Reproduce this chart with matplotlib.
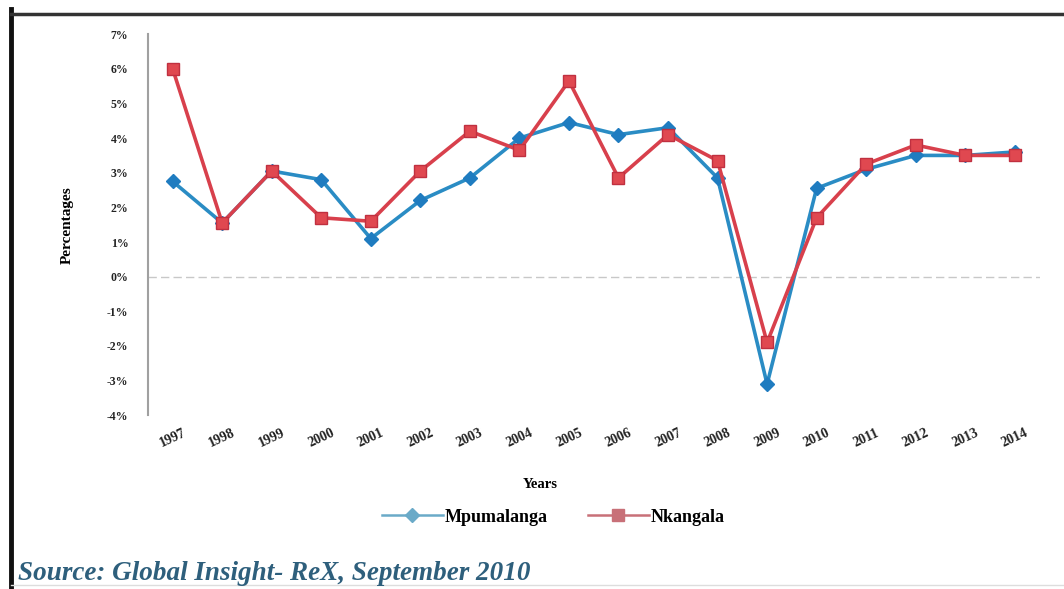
import numpy as np
import matplotlib.pyplot as plt
from matplotlib.lines import Line2D

# Daten
years = list(range(1997, 2015))
mpumalanga = [2.75, 1.55, 3.05, 2.8, 1.1, 2.2, 2.85, 4.0, 4.45, 4.1, 4.3, 2.85, -3.1, 2.55, 3.1, 3.5, 3.5, 3.6]
nkangala = [6.0, 1.55, 3.05, 1.7, 1.6, 3.05, 4.2, 3.65, 5.65, 2.85, 4.1, 3.35, -1.9, 1.7, 3.25, 3.8, 3.5, 3.5]
ytick_vals = list(range(-4, 8))
ytick_labels = [f'{v}%' for v in ytick_vals]

fig = plt.figure(figsize=(10.64, 5.89), dpi=100)
ax = fig.add_axes([0.139, 0.295, 0.838, 0.647])

x = np.arange(len(years))
ax.plot(x, mpumalanga, color='#2a8cc4', lw=2.6, marker='D', ms=7,
        mfc='#1f7cc0', mec='#1f7cc0', label='Mpumalanga', zorder=3)
ax.plot(x, nkangala, color='#d8404c', lw=2.6, marker='s', ms=8,
        mfc='#e04850', mec='#c03040', label='Nkangala', zorder=4)

ax.axhline(0, color='#c8c8c8', lw=1, ls=(0, (6, 3)), zorder=1)

ax.set_xlim(-0.5, len(years) - 0.5)
ax.set_ylim(-4, 7)
ax.set_yticks(ytick_vals)
ax.set_yticklabels(ytick_labels, fontsize=8.5, family='Liberation Serif',
                   weight='bold', color='#222222')
ax.set_xticks(x)
ax.set_xticklabels([str(y) for y in years], rotation=25, fontsize=10,
                   family='Liberation Serif', weight='bold', color='#222222', ha='center')
ax.tick_params(axis='y', length=0, pad=14)
ax.tick_params(axis='x', length=0, pad=8)

for s in ['top', 'right', 'bottom']:
    ax.spines[s].set_visible(False)
ax.spines['left'].set_color('#a0a0a0')
ax.spines['left'].set_linewidth(1.5)

ax.set_ylabel('Percentages', fontsize=11, family='Liberation Serif', weight='bold')
ax.set_xlabel('Years', fontsize=10.5, family='Liberation Serif', weight='bold')
ax.yaxis.set_label_coords(-0.083, 0.5)
ax.xaxis.set_label_coords(0.44, -0.165)

leg = fig.legend(handles=[
    Line2D([], [], color='#6aaac8', lw=1.8, marker='D', ms=7, mfc='#6aaac8', mec='#6aaac8'),
    Line2D([], [], color='#c87078', lw=1.8, marker='s', ms=8, mfc='#c87078', mec='#c87078')],
    labels=['Mpumalanga', 'Nkangala'], loc='center', bbox_to_anchor=(0.52, 0.122),
    ncol=2, frameon=False, prop={'family': 'Liberation Serif', 'size': 13, 'weight': 'bold'},
    handlelength=3.4, handletextpad=0.1, columnspacing=2.2)

fig.text(0.017, 0.016, 'Source: Global Insight- ReX, September 2010', fontsize=19.5,
         family='Liberation Serif', style='italic', weight='bold', color='#2e5f7c')

# Rahmen
fig.add_artist(Line2D([0.0103, 0.0103], [0.0, 0.985], transform=fig.transFigure,
                      color='#111111', lw=3.5))
fig.add_artist(Line2D([0.0103, 1.0], [0.976, 0.976], transform=fig.transFigure,
                      color='#333333', lw=2.5))
fig.add_artist(Line2D([0.0103, 1.0], [0.006, 0.006], transform=fig.transFigure,
                      color='#dddddd', lw=1))

fig.savefig('out.png', dpi=100)
